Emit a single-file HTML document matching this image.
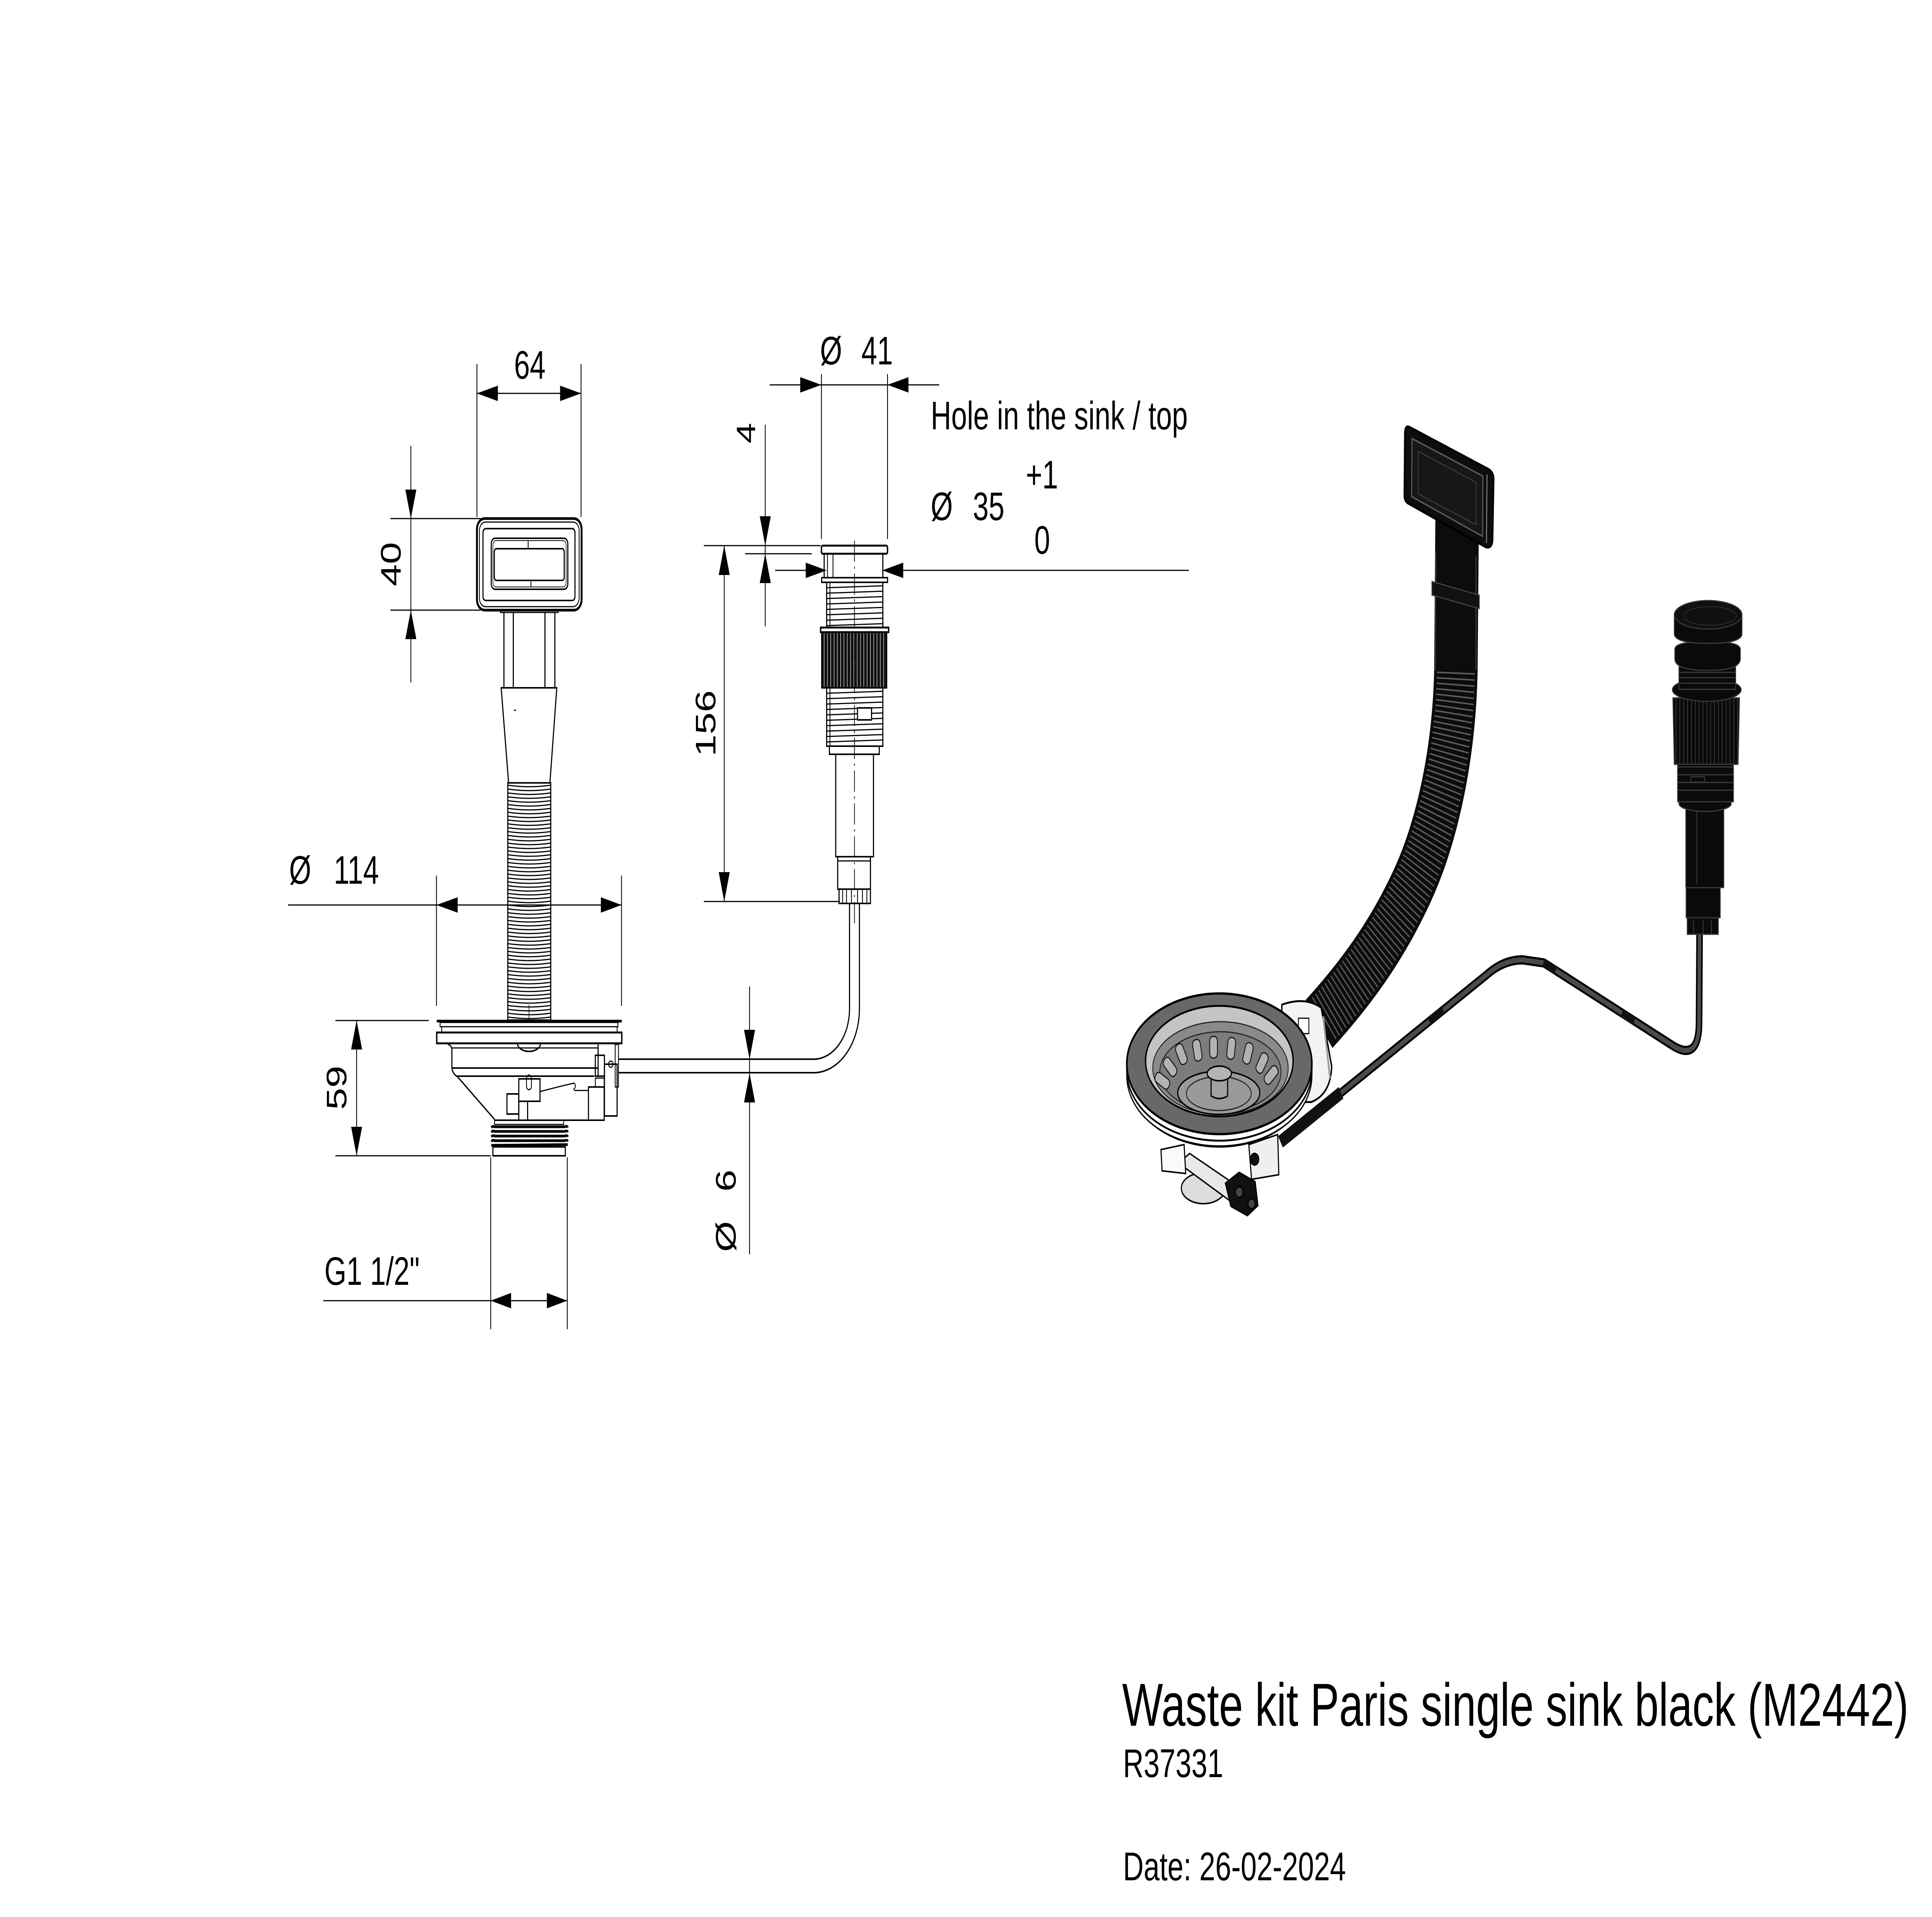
<!DOCTYPE html>
<html><head><meta charset="utf-8"><title>Waste kit Paris single sink black (M2442)</title>
<style>
html,body{margin:0;padding:0;background:#fff;width:100%;height:100%;overflow:hidden;}
svg{display:block;width:100vw;height:100vh;}
text{font-family:"Liberation Sans",Arial,sans-serif;fill:#000;}
</style></head><body>
<svg xmlns="http://www.w3.org/2000/svg" viewBox="0 0 7016 4961" preserveAspectRatio="none">
<defs>
<pattern id="hr" patternUnits="userSpaceOnUse" x="1844" y="2030" width="156" height="10">
 <path d="M0 2 Q78 10 156 2" fill="none" stroke="#000" stroke-width="3"/>
</pattern>
<pattern id="kn" patternUnits="userSpaceOnUse" x="2984" y="0" width="12" height="20">
 <rect width="12" height="20" fill="#111"/><rect x="8" width="1.6" height="20" fill="#fff"/>
</pattern>
<pattern id="kn3" patternUnits="userSpaceOnUse" x="6075" y="0" width="14" height="20">
 <rect width="14" height="20" fill="#0a0a0a"/><rect x="10" width="2.5" height="20" fill="#3c3c3c"/>
</pattern>
</defs>
<rect width="7016" height="4961" fill="#fff"/>

<!-- ===== DIMENSION LINES ===== -->
<g fill="none" stroke="#000" stroke-width="3">
 <line x1="1732" y1="942" x2="1732" y2="1338"/>
 <line x1="2110" y1="942" x2="2110" y2="1338"/>
 <line x1="1732" y1="1018" x2="2110" y2="1018"/>
 <line x1="1492" y1="1154" x2="1492" y2="1766"/>
 <line x1="1418" y1="1342" x2="1745" y2="1342"/>
 <line x1="1418" y1="1579" x2="1745" y2="1579"/>
 <line x1="1046" y1="2342" x2="2257" y2="2342"/>
 <line x1="1585" y1="2266" x2="1585" y2="2603"/>
 <line x1="2257" y1="2266" x2="2257" y2="2603"/>
 <line x1="1295" y1="2641" x2="1295" y2="2991"/>
 <line x1="1218" y1="2641" x2="1557" y2="2641"/>
 <line x1="1218" y1="2991" x2="1782" y2="2991"/>
 <line x1="1174" y1="3366" x2="2060" y2="3366"/>
 <line x1="1782" y1="2995" x2="1782" y2="3440"/>
 <line x1="2060" y1="2995" x2="2060" y2="3440"/>
 <line x1="2722" y1="2553" x2="2722" y2="3246"/>
 <line x1="2795" y1="996" x2="3411" y2="996"/>
 <line x1="2983" y1="968" x2="2983" y2="1395"/>
 <line x1="3223" y1="968" x2="3223" y2="1395"/>
 <line x1="2815" y1="1476" x2="2926" y2="1476"/>
 <line x1="3280" y1="1476" x2="4317" y2="1476"/>
 <line x1="2779" y1="1099" x2="2779" y2="1621"/>
 <line x1="2556" y1="1412" x2="2980" y2="1412"/>
 <line x1="2706" y1="1433" x2="2948" y2="1433"/>
 <line x1="2630" y1="1412" x2="2630" y2="2333"/>
 <line x1="2556" y1="2333" x2="3050" y2="2333"/>
</g>
<g fill="#000" stroke="none">
 <polygon points="1732,1018 1808,998 1808,1038"/>
 <polygon points="2110,1018 2034,998 2034,1038"/>
 <polygon points="1492,1342 1472,1267 1512,1267"/>
 <polygon points="1492,1579 1472,1654 1512,1654"/>
 <polygon points="1585,2342 1662,2322 1662,2362"/>
 <polygon points="2257,2342 2182,2322 2182,2362"/>
 <polygon points="1295,2641 1275,2716 1315,2716"/>
 <polygon points="1295,2991 1275,2916 1315,2916"/>
 <polygon points="1782,3366 1856,3346 1856,3386"/>
 <polygon points="2060,3366 1986,3346 1986,3386"/>
 <polygon points="2722,2741 2702,2665 2742,2665"/>
 <polygon points="2722,2777 2702,2853 2742,2853"/>
 <polygon points="2983,996 2906,976 2906,1016"/>
 <polygon points="3223,996 3299,976 3299,1016"/>
 <polygon points="3002,1476 2926,1456 2926,1496"/>
 <polygon points="3204,1476 3280,1456 3280,1496"/>
 <polygon points="2779,1412 2759,1336 2799,1336"/>
 <polygon points="2779,1433 2759,1509 2799,1509"/>
 <polygon points="2630,1412 2610,1488 2650,1488"/>
 <polygon points="2630,2333 2610,2257 2650,2257"/>
</g>

<!-- ===== DIMENSION TEXT ===== -->
<g font-size="103">
 <text x="1924" y="980" text-anchor="middle">64</text>
 <text transform="translate(1455,1460) rotate(-90)" text-anchor="middle">40</text>
 <text x="1050" y="2287">Ø</text>
 <text x="1212" y="2287">114</text>
 <text transform="translate(1258,2815) rotate(-90)" text-anchor="middle">59</text>
 <text x="1178" y="3325">G1 1/2&quot;</text>
 <text transform="translate(2672,3240) rotate(-90)">Ø</text>
 <text transform="translate(2672,3084) rotate(-90)">6</text>
 <text x="2978" y="943">Ø</text>
 <text x="3128" y="943">41</text>
 <text x="3380" y="1111">Hole in the sink / top</text>
 <text x="3380" y="1346">Ø</text>
 <text x="3533" y="1346">35</text>
 <text x="3725" y="1264">+1</text>
 <text x="3756" y="1433">0</text>
 <text transform="translate(2742,1121) rotate(-90)" text-anchor="middle" font-size="96">4</text>
 <text transform="translate(2598,1872) rotate(-90)" text-anchor="middle">156</text>
</g>

<!-- ===== LEFT ASSEMBLY ===== -->
<g fill="none" stroke="#000" stroke-width="4">
 <rect x="1732" y="1342" width="380" height="237" rx="28" stroke-width="7"/>
 <rect x="1741" y="1351" width="362" height="219" rx="22" stroke-width="3"/>
 <rect x="1754" y="1368" width="334" height="186" rx="10"/>
 <rect x="1784" y="1393" width="278" height="132" rx="14"/>
 <rect x="1790" y="1399" width="266" height="120" rx="11" stroke-width="2"/>
 <rect x="1795" y="1420" width="254" height="82" rx="8"/>
 <line x1="1918" y1="1400" x2="1918" y2="1420" stroke-width="3"/>
 <line x1="1928" y1="1502" x2="1928" y2="1520" stroke-width="3"/>
 <rect x="1817" y="1579" width="210" height="6" stroke-width="3"/>
 <line x1="1830" y1="1585" x2="1830" y2="1780"/>
 <line x1="2015" y1="1585" x2="2015" y2="1780"/>
 <line x1="1864" y1="1585" x2="1864" y2="1780"/>
 <line x1="1979" y1="1585" x2="1979" y2="1780"/>
 <polygon points="1820,1780 2022,1780 1997,2026 1847,2026"/>
 <line x1="1866" y1="1838" x2="1874" y2="1838" stroke-width="3"/>
 <rect x="1844" y="2026" width="156" height="614" fill="url(#hr)" stroke-width="4"/>
 <line x1="1921" y1="2600" x2="1921" y2="2640" stroke-width="2"/>
 <rect x="1586" y="2639" width="672" height="7" fill="#000" stroke="none"/>
 <rect x="1598" y="2646" width="646" height="11" stroke-width="3"/>
 <rect x="1604" y="2657" width="637" height="15" stroke-width="3"/>
 <rect x="1586" y="2672" width="672" height="28" stroke-width="5"/>
 <path d="M1622 2700 Q1641 2706 1641 2716 L1641 2764 Q1643 2778 1662 2787 L1796 2897"/>
 <line x1="1641" y1="2712" x2="2172" y2="2712" stroke-width="3"/>
 <line x1="1641" y1="2764" x2="2172" y2="2764"/>
 <line x1="1660" y1="2785" x2="2158" y2="2785"/>
 <path d="M1879 2700 A42 21 0 0 0 1963 2700"/>
 <line x1="2172" y1="2700" x2="2172" y2="2785"/>
 <rect x="2162" y="2731" width="33" height="54"/>
 <rect x="2195" y="2754" width="46" height="134"/>
 <rect x="2234" y="2703" width="12" height="110" stroke-width="3"/>
 <rect x="2137" y="2813" width="57" height="86"/>
 <rect x="2162" y="2790" width="32" height="23" stroke-width="3"/>
 <circle cx="2218" cy="2754" r="8" stroke-width="3"/>
 <rect x="1884" y="2792" width="77" height="58"/>
 <rect x="1912" y="2782" width="18" height="38" rx="9" stroke-width="3"/>
 <rect x="1884" y="2850" width="32" height="49"/>
 <rect x="1841" y="2831" width="43" height="52"/>
 <path d="M1961 2825 Q2040 2810 2085 2803 Q2096 2812 2082 2820" stroke-width="3"/>
 <line x1="2085" y1="2822" x2="2137" y2="2822" stroke-width="3"/>
 <line x1="1796" y1="2899" x2="2194" y2="2899"/>
 <rect x="1796" y="2899" width="251" height="11" stroke-width="3"/>
 <g stroke-width="7">
  <path d="M1784 2918 Q1790 2913 1796 2916 L2050 2916 Q2060 2913 2062 2918"/>
  <path d="M1784 2930 Q1790 2925 1796 2928 L2050 2928 Q2060 2925 2062 2930"/>
  <path d="M1784 2942 Q1790 2937 1796 2940 L2050 2940 Q2060 2937 2062 2942"/>
  <path d="M1784 2954 Q1790 2949 1796 2952 L2050 2952 Q2060 2949 2062 2954"/>
  <path d="M1784 2964 L2062 2962"/>
 </g>
 <rect x="1790" y="2968" width="263" height="23"/>
 <path d="M2246 2776 L2955 2776 A166 166 0 0 0 3121 2610 L3121 2338"/>
 <path d="M2246 2741 L2955 2741 A130 130 0 0 0 3085 2611 L3085 2338"/>
</g>

<!-- ===== POP-UP (front view) ===== -->
<g fill="none" stroke="#000" stroke-width="4">
 <rect x="2983" y="1412" width="240" height="21" rx="5" stroke-width="5"/>
 <rect x="2993" y="1433" width="213" height="62"/>
 <line x1="3005" y1="1433" x2="3005" y2="1495" stroke-width="3"/>
 <line x1="3025" y1="1433" x2="3025" y2="1495" stroke-width="3"/>
 <rect x="2984" y="1495" width="239" height="12"/>
 <rect x="3002" y="1507" width="204" height="117"/>
 <g stroke-width="3">
  <path d="M3002 1521 L3206 1516"/><path d="M3002 1535 L3206 1530"/>
  <path d="M3002 1549 L3206 1544"/><path d="M3002 1563 L3206 1558"/>
  <path d="M3002 1577 L3206 1572"/><path d="M3002 1591 L3206 1586"/>
  <path d="M3002 1605 L3206 1600"/><path d="M3002 1619 L3206 1614"/>
  <line x1="3014" y1="1507" x2="3014" y2="1624"/>
 </g>
 <rect x="2980" y="1624" width="247" height="12" stroke-width="5"/>
 <rect x="2984" y="1636" width="236" height="144" fill="url(#kn)"/>
 <rect x="3002" y="1780" width="204" height="151"/>
 <g stroke-width="3">
  <path d="M3002 1794 L3206 1789"/><path d="M3002 1808 L3206 1803"/>
  <path d="M3002 1822 L3206 1817"/><path d="M3002 1836 L3206 1831"/>
  <path d="M3002 1850 L3206 1845"/><path d="M3002 1864 L3206 1859"/>
  <path d="M3002 1878 L3206 1873"/><path d="M3002 1892 L3206 1887"/>
  <path d="M3002 1906 L3206 1901"/><path d="M3002 1920 L3206 1915"/>
  <line x1="3014" y1="1780" x2="3014" y2="1931"/>
 </g>
 <rect x="3114" y="1832" width="51" height="31" fill="#fff"/>
 <rect x="3012" y="1931" width="181" height="21"/>
 <rect x="3035" y="1952" width="137" height="265"/>
 <rect x="3042" y="2217" width="119" height="84"/>
 <line x1="3042" y1="2228" x2="3161" y2="2228" stroke-width="3"/>
 <rect x="3047" y="2301" width="114" height="37"/>
 <g stroke-width="3">
  <line x1="3060" y1="2301" x2="3060" y2="2338"/><line x1="3074" y1="2301" x2="3074" y2="2338"/>
  <line x1="3092" y1="2301" x2="3092" y2="2338"/><line x1="3114" y1="2301" x2="3114" y2="2338"/>
  <line x1="3132" y1="2301" x2="3132" y2="2338"/><line x1="3148" y1="2301" x2="3148" y2="2338"/>
 </g>
 <line x1="3103" y1="1399" x2="3103" y2="2395" stroke-width="2.5" stroke-dasharray="55 12 6 12"/>
</g>

<!-- ===== 3D RENDER ===== -->
<path d="M5292 1300 L5287 1735 C5281 1950 5220 2150 5130 2290 C5040 2430 4930 2540 4790 2650" fill="none" stroke="#0c0c0c" stroke-width="158"/>
<path d="M5287 1740 C5281 1950 5220 2150 5130 2290 C5040 2430 4930 2540 4800 2642" fill="none" stroke="#5c5c5c" stroke-width="138" stroke-dasharray="4 11"/>
<path d="M5214 1430 L5212 1735" stroke="#3a3a3a" stroke-width="4" fill="none"/>
<path d="M5360 1440 L5360 1735" stroke="#3a3a3a" stroke-width="4" fill="none"/>
<path d="M5200 1505 L5372 1540 L5372 1575 L5200 1540 Z" fill="#111" stroke="#444" stroke-width="3"/>
<path d="M5118 1105 L5405 1214 Q5424 1222 5424 1240 L5420 1398 Q5418 1420 5396 1416 L5112 1302 Q5100 1296 5100 1282 L5102 1118 Q5104 1100 5118 1105 Z" fill="#0d0d0d" stroke="#000" stroke-width="6"/>
<path d="M5128 1135 L5385 1232 L5384 1388 L5126 1285 Z" fill="#171717" stroke="#5a5a5a" stroke-width="4"/>
<path d="M5150 1168 L5360 1248 L5360 1358 L5150 1278 Z" fill="none" stroke="#3a3a3a" stroke-width="3"/>
<line x1="5400" y1="1228" x2="5398" y2="1405" stroke="#777" stroke-width="4"/>

<g stroke="#000" stroke-width="4">
 <ellipse cx="4370" cy="3075" rx="80" ry="40" fill="#dcdcdc"/>
 <polygon points="4280,3010 4320,2985 4505,3075 4475,3112" fill="#e8e8e8"/>
 <path d="M4450 3062 L4500 3034 L4558 3058 L4568 3120 L4530 3146 L4470 3122 Z" fill="#111"/>
 <circle cx="4500" cy="3085" r="14" fill="#444"/>
 <circle cx="4545" cy="3115" r="13" fill="#444"/>
 <polygon points="4216,2975 4300,2962 4306,3037 4220,3030" fill="#fafafa"/>
 <polygon points="4535,2962 4640,2936 4644,3040 4545,3052" fill="#efefef"/>
 <circle cx="4556" cy="3000" r="15" fill="#111"/>
 <ellipse cx="4428" cy="2800" rx="320" ry="168" fill="#e6e6e6"/>
</g>
<path d="M4655 2600 Q4740 2578 4798 2608 L4836 2760 Q4832 2832 4762 2852 L4650 2852 Z" fill="#f3f3f3" stroke="#000" stroke-width="5"/>
<line x1="4805" y1="2630" x2="4830" y2="2790" stroke="#999" stroke-width="6"/>
<rect x="4715" y="2635" width="38" height="40" fill="#fff" stroke="#000" stroke-width="3"/>
<ellipse cx="4428" cy="2784" rx="336" ry="182" fill="#fff" stroke="#000" stroke-width="4"/>
<ellipse cx="4428" cy="2770" rx="336" ry="182" fill="#fff" stroke="#000" stroke-width="5"/>
<ellipse cx="4428" cy="2753" rx="336" ry="182" fill="#686868" stroke="#000" stroke-width="6"/>
<ellipse cx="4428" cy="2746" rx="268" ry="143" fill="#c4c4c4" stroke="#000" stroke-width="5"/>
<ellipse cx="4432" cy="2764" rx="246" ry="120" fill="#8a8a8a" stroke="#222" stroke-width="3"/>
<ellipse cx="4432" cy="2774" rx="220" ry="104" fill="#7c7c7c" stroke="#222" stroke-width="3"/>
<g fill="#b2b2b2" stroke="#111" stroke-width="3">
 <rect x="4207" y="2769" width="28" height="56" rx="12" transform="rotate(-60 4221 2797)"/>
 <rect x="4235" y="2733" width="28" height="56" rx="12" transform="rotate(-45 4249 2761)"/>
 <rect x="4276" y="2700" width="28" height="56" rx="12" transform="rotate(-28 4290 2728)"/>
 <rect x="4334" y="2690" width="28" height="56" rx="12" transform="rotate(-12 4348 2718)"/>
 <rect x="4393" y="2682" width="28" height="56" rx="12"/>
 <rect x="4457" y="2685" width="28" height="56" rx="12" transform="rotate(8 4471 2713)"/>
 <rect x="4518" y="2698" width="28" height="56" rx="12" transform="rotate(18 4532 2726)"/>
 <rect x="4569" y="2723" width="28" height="56" rx="12" transform="rotate(32 4583 2751)"/>
 <rect x="4602" y="2754" width="28" height="56" rx="12" transform="rotate(48 4616 2782)"/>
</g>
<ellipse cx="4426" cy="2828" rx="149" ry="56" fill="#9a9a9a" stroke="#000" stroke-width="4"/>
<ellipse cx="4426" cy="2830" rx="118" ry="44" fill="none" stroke="#222" stroke-width="3"/>
<path d="M4398 2782 L4398 2836 Q4428 2850 4458 2836 L4458 2782 Z" fill="#a0a0a0" stroke="#000" stroke-width="4"/>
<ellipse cx="4428" cy="2778" rx="44" ry="19" fill="#b4b4b4" stroke="#000" stroke-width="4"/>
<path d="M4650 2955 L5400 2522 Q5460 2484 5530 2484 L5607 2492 L6066 2702 Q6168 2752 6170 2650 L6172 2410" fill="none" stroke="#000" stroke-width="24" stroke-linejoin="round"/>
<path d="M4650 2955 L5400 2522 Q5460 2484 5530 2484 L5607 2492 L6066 2702 Q6168 2752 6170 2650 L6172 2410" fill="none" stroke="#4a4a4a" stroke-width="13" stroke-linejoin="round"/>
<path d="M4650 2955 L4870 2828" stroke="#111" stroke-width="34" fill="none"/>
<path d="M5190 2642 L5240 2613" stroke="#111" stroke-width="22" fill="none"/>
<path d="M5605 2491 L5650 2511" stroke="#111" stroke-width="22" fill="none"/>
<path d="M5890 2622 L5935 2643" stroke="#111" stroke-width="22" fill="none"/>

<g stroke="#3a3a3a" stroke-width="3">
 <rect x="6127" y="2367" width="113" height="51" fill="#0a0a0a"/>
 <line x1="6150" y1="2380" x2="6150" y2="2418"/><line x1="6185" y1="2380" x2="6185" y2="2418"/><line x1="6215" y1="2380" x2="6215" y2="2418"/>
 <rect x="6123" y="2290" width="124" height="85" fill="#0a0a0a"/>
 <rect x="6122" y="2094" width="138" height="203" fill="#0a0a0a"/>
 <line x1="6162" y1="2100" x2="6162" y2="2290"/>
 <ellipse cx="6192" cy="2080" rx="95" ry="20" fill="#0a0a0a"/>
 <rect x="6092" y="1960" width="203" height="115" fill="#0a0a0a"/>
 <line x1="6092" y1="1985" x2="6295" y2="1985"/><line x1="6092" y1="2005" x2="6295" y2="2005"/>
 <line x1="6092" y1="2025" x2="6295" y2="2025"/><line x1="6092" y1="2045" x2="6295" y2="2045"/>
 <rect x="6140" y="2010" width="50" height="14" fill="#0a0a0a"/>
 <path d="M6075 1806 L6317 1806 L6312 1978 L6080 1978 Z" fill="url(#kn3)"/>
 <ellipse cx="6198" cy="1785" rx="125" ry="30" fill="#0a0a0a"/>
 <rect x="6097" y="1726" width="206" height="58" fill="#0a0a0a"/>
 <line x1="6097" y1="1740" x2="6303" y2="1740"/><line x1="6097" y1="1754" x2="6303" y2="1754"/>
 <line x1="6097" y1="1768" x2="6303" y2="1768"/>
 <path d="M6082 1680 Q6082 1660 6201 1660 Q6320 1660 6320 1680 L6320 1705 Q6320 1735 6201 1735 Q6082 1735 6082 1705 Z" fill="#0a0a0a"/>
 <path d="M6080 1591 L6080 1640 Q6080 1665 6203 1665 Q6326 1665 6326 1640 L6326 1591 Z" fill="#0a0a0a"/>
 <ellipse cx="6203" cy="1591" rx="123" ry="37" fill="#101010"/>
 <ellipse cx="6210" cy="1594" rx="95" ry="24" fill="none" stroke="#262626"/>
</g>

<!-- ===== TITLE BLOCK ===== -->
<text x="4075" y="4466" font-size="157">Waste kit Paris single sink black (M2442)</text>
<text x="4078" y="4599" font-size="104">R37331</text>
<text x="4078" y="4866" font-size="104">Date: 26-02-2024</text>
</svg>
</body></html>
